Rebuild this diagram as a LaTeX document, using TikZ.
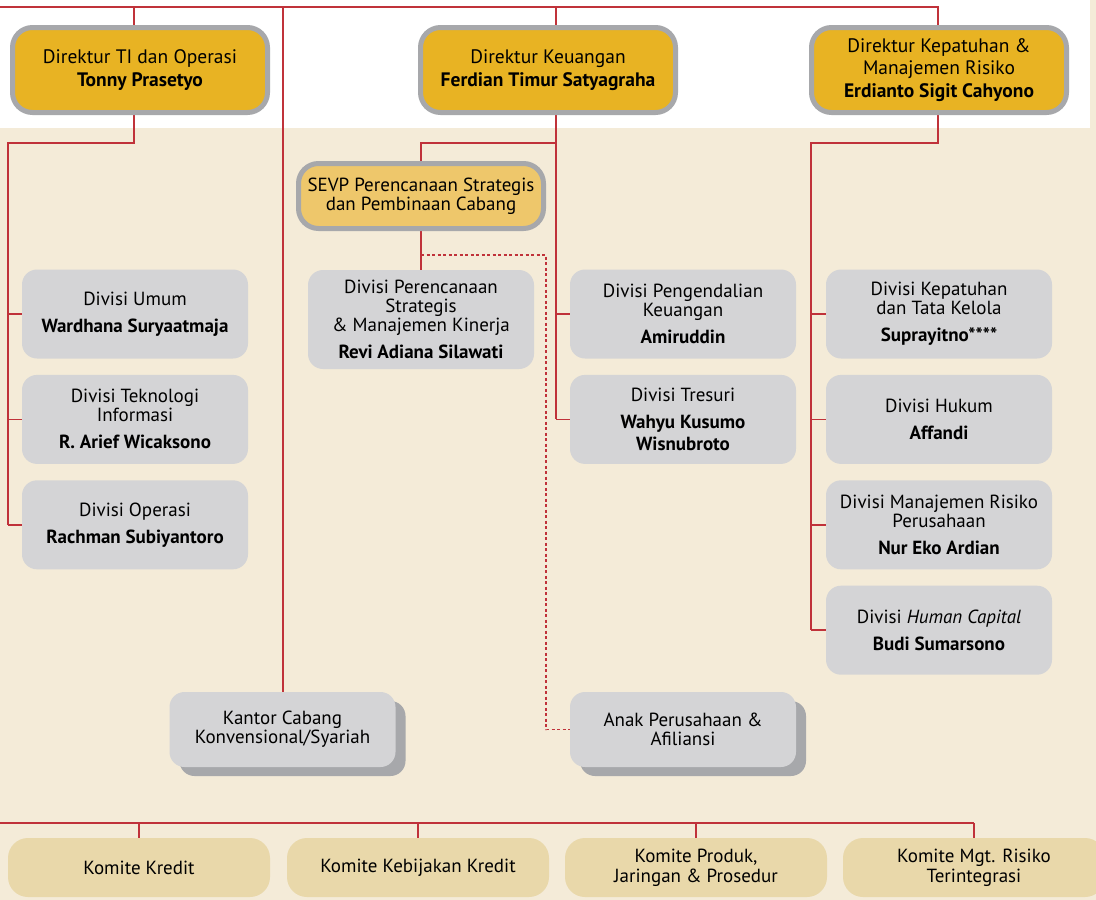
\documentclass[tikz,border=0pt]{standalone}
\usepackage{fontspec}
\setmainfont{PT Sans}
\usetikzlibrary{positioning,shadows,backgrounds}

\definecolor{direkgold}{HTML}{E8B323}
\definecolor{sevpgold}{HTML}{EEC76B}
\definecolor{framegray}{HTML}{A7A8AB}
\definecolor{divgray}{HTML}{D4D4D6}
\definecolor{bgbeige}{HTML}{F4EBD8}
\definecolor{komitetan}{HTML}{E9D8AA}
\definecolor{linered}{HTML}{C0323A}

\begin{document}
\begin{tikzpicture}[x=1pt, y=-1pt,
    direktur/.style={draw=framegray, line width=5pt, fill=direkgold, rounded corners=20pt,
        minimum width=255pt, minimum height=85pt, inner sep=0pt, align=center,
        font=\fontsize{19.5}{22.5}\selectfont},
    sevp/.style={direktur, fill=sevpgold, minimum width=245pt, minimum height=65pt,
        font=\fontsize{19}{19.5}\selectfont},
    divisi/.style={fill=divgray, rounded corners=15pt, minimum width=226pt, minimum height=89pt,
        inner sep=0pt, align=center, font=\fontsize{19}{19}\selectfont},
    kantor/.style={divisi, minimum height=75pt,
        drop shadow={shadow xshift=10pt, shadow yshift=-9pt, fill=framegray, opacity=1}},
    komite/.style={fill=komitetan, rounded corners=20pt, minimum width=262pt, minimum height=59pt,
        inner sep=0pt, align=center, font=\fontsize{19}{20}\selectfont},
    orgline/.style={draw=linered, line width=1.5pt},
    dashline/.style={orgline, line width=1.2pt, dash pattern=on 3pt off 2.5pt}]

    \useasboundingbox (0,0) rectangle (1096,900);

    % direksi
    \node[direktur] (ti) at (140,70) {Direktur TI dan Operasi\\\textbf{Tonny Prasetyo}};
    \node[direktur] (keu) at (548,70) {Direktur Keuangan\\\textbf{Ferdian Timur Satyagraha}};
    \node[direktur] (kep) at (939,70) {Direktur Kepatuhan \&\\Manajemen Risiko\\\textbf{Erdianto Sigit Cahyono}};
    \node[sevp] (sevp) at (421,196) {SEVP Perencanaan Strategis\\dan Pembinaan Cabang};

    % divisi kiri
    \node[divisi] (umum) at (135,314) {Divisi Umum\\[8pt]\textbf{Wardhana Suryaatmaja}};
    \node[divisi, below=16pt of umum] (tekno) {Divisi Teknologi\\Informasi\\[8pt]\textbf{R. Arief Wicaksono}};
    \node[divisi, below=16pt of tekno] (opr) {Divisi Operasi\\[8pt]\textbf{Rachman Subiyantoro}};

    % divisi tengah
    \node[divisi, minimum height=99pt] (renc) at (421,319.5) {Divisi Perencanaan\\Strategis\\\& Manajemen Kinerja\\[8pt]\textbf{Revi Adiana Silawati}};
    \node[divisi] (kend) at (683,314) {Divisi Pengendalian\\Keuangan\\[8pt]\textbf{Amiruddin}};
    \node[divisi, below=16pt of kend] (tres) {Divisi Tresuri\\[8pt]\textbf{Wahyu Kusumo}\\[3pt]\textbf{Wisnubroto}};

    % divisi kanan
    \node[divisi] (kptt) at (939,314) {Divisi Kepatuhan\\dan Tata Kelola\\[8pt]\textbf{Suprayitno****}};
    \node[divisi, below=16pt of kptt] (hukum) {Divisi Hukum\\[8pt]\textbf{Affandi}};
    \node[divisi, below=16pt of hukum] (mr) {Divisi Manajemen Risiko\\Perusahaan\\[8pt]\textbf{Nur Eko Ardian}};
    \node[divisi, below=16pt of mr] (hc) {Divisi \textit{Human Capital}\\[8pt]\textbf{Budi Sumarsono}};

    % kantor & anak perusahaan
    \node[kantor] (kcab) at (282.5,729.5) {Kantor Cabang\\Konvensional/Syariah};
    \node[kantor] (anak) at (683,729.5) {Anak Perusahaan \&\\Afiliansi};

    % komite
    \node[komite] (kk) at (139,867.5) {Komite Kredit};
    \node[komite] (kkk) at (418,867.5) {Komite Kebijakan Kredit};
    \node[komite] (kpj) at (696,867.5) {Komite Produk,\\Jaringan \& Prosedur};
    \node[komite] (kmr) at (974,867.5) {Komite Mgt. Risiko\\Terintegrasi};

    \begin{scope}[on background layer]
        \fill[bgbeige] (0,0) rectangle (1096,900);
        \fill[white] (0,0) rectangle (1090,128);

        \coordinate (busT) at (0,7);
        \coordinate (busTend) at (938,7);
        \coordinate (tiX) at (134,7);
        \coordinate (cabX) at (283,7);
        \coordinate (keuX) at (556,7);
        \coordinate (lbr) at (8,143);
        \coordinate (rbr) at (811,143);
        \coordinate (dashC) at (546,255);
        \coordinate (busB) at (0,823);
        \coordinate (busBend) at (974,823);

        \draw[orgline] (busT) -- (busTend) -- (busTend |- kep.north);
        \draw[orgline] (tiX) -- (tiX |- ti.north);
        \draw[orgline] (cabX) -- (cabX |- kcab.north);
        \draw[orgline] (keuX) -- (keuX |- keu.north);

        \draw[orgline] (tiX |- ti.south) |- (lbr) -- (lbr |- opr.west);
        \foreach \n in {umum,tekno,opr}
            \draw[orgline] (lbr |- \n.west) -- (\n.west);

        \draw[orgline] (keuX |- keu.south) -- (keuX |- tres.west);
        \draw[orgline] (keuX |- lbr) -| (sevp.north);
        \foreach \n in {kend,tres}
            \draw[orgline] (keuX |- \n.west) -- (\n.west);
        \draw[orgline] (sevp.south) -- (renc.north);
        \draw[dashline] (sevp.south |- dashC) -- (dashC) |- (anak.west);

        \draw[orgline] (busTend |- kep.south) |- (rbr) -- (rbr |- hc.west);
        \foreach \n in {kptt,hukum,mr,hc}
            \draw[orgline] (rbr |- \n.west) -- (\n.west);

        \draw[orgline] (busB) -- (busBend);
        \foreach \n in {kk,kkk,kpj,kmr}
            \draw[orgline] (busB -| \n.north) -- (\n.north);
    \end{scope}
\end{tikzpicture}
\end{document}
